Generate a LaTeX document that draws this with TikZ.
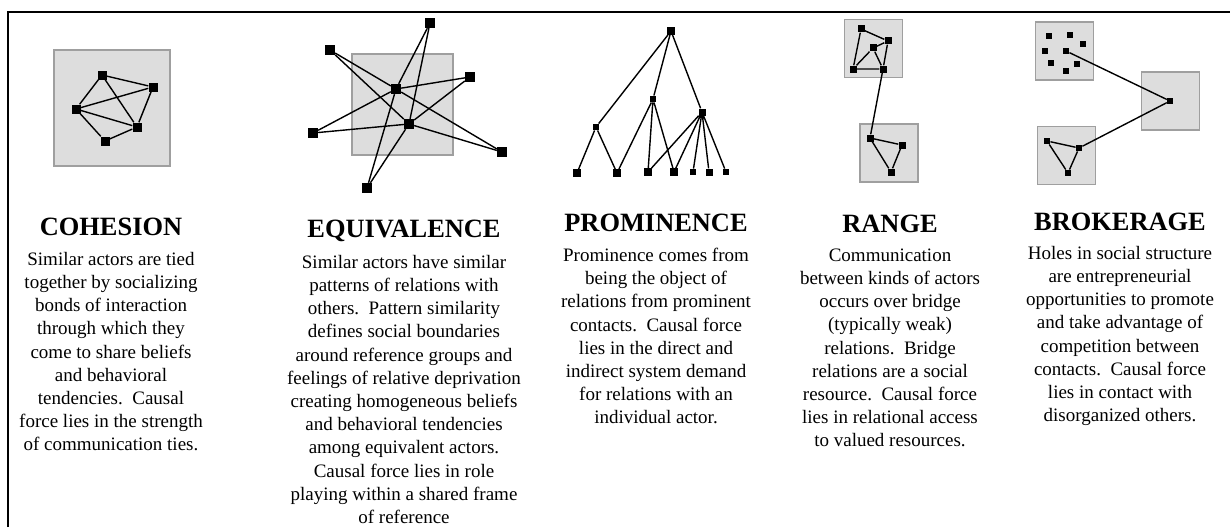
\documentclass[tikz,border=0pt]{standalone}
\usepackage{fontspec}
\setmainfont{Liberation Serif}
\usepackage{tikz}

\begin{document}
\begin{tikzpicture}[x=1pt,y=-1pt,
    actor/.style={fill=black, draw=none, minimum size=#1, inner sep=0pt},
    actor/.default=8pt,
    grpbox/.style={fill=gray!27, draw=gray!75, line width=1.1pt, minimum size=#1, inner sep=0pt},
    tie/.style={line width=1.4pt},
    heading/.style={font=\fontsize{26.4}{30}\selectfont\bfseries, inner sep=0pt, anchor=base},
    blurb/.style={font=\fontsize{19}{23.2}\selectfont, align=center, inner sep=0pt, anchor=north}]
  \useasboundingbox (0,0) rectangle (1230,527);
  \draw[line width=1.8pt] (8,527) -- (8,12) -- (1230,12);

  			% Cohesion
  			\node[grpbox=116pt] (gcoh) at (112,108) {};
  			\node[actor=9pt] (c1) at (102,75) {};
  			\node[actor=9pt] (c2) at (153,87) {};
  			\node[actor=9pt] (c3) at (76,109) {};
  			\node[actor=9pt] (c4) at (137,127) {};
  			\node[actor=9pt] (c5) at (105,141) {};
  			\draw[tie] (c1) -- (c2) (c1) -- (c3) (c1) -- (c4) (c2) -- (c3)
  			  (c2) -- (c4) (c3) -- (c4) (c3) -- (c5) (c5) -- (c4);

  			% Equivalence
  			\node[grpbox=101pt] (gequ) at (402.5,104.5) {};
  			\node[actor=10pt] (e1) at (430,23) {};
  			\node[actor=10pt] (e2) at (330,50) {};
  			\node[actor=10pt] (e3) at (470,77) {};
  			\node[actor=10pt] (e4) at (396,89) {};
  			\node[actor=10pt] (e5) at (313,133) {};
  			\node[actor=10pt] (e6) at (409,124) {};
  			\node[actor=10pt] (e7) at (502,152) {};
  			\node[actor=10pt] (e8) at (367,188) {};
  			\draw[tie] (e4) -- (e1) (e4) -- (e2) (e4) -- (e3) (e4) -- (e5) (e4) -- (e7) (e4) -- (e8);
  			\draw[tie] (e6) -- (e1) (e6) -- (e2) (e6) -- (e3) (e6) -- (e5) (e6) -- (e7) (e6) -- (e8);

  			% Prominence
  			\node[actor=7.5pt] (p0) at (671,31) {};
  			\node[actor=6.5pt] (p1) at (596,127) {};
  			\node[actor=6.5pt] (p2) at (653,99) {};
  			\node[actor=7pt]   (p3) at (702,112) {};
  			\node[actor=7.5pt] (q1) at (577,173) {};
  			\node[actor=7.5pt] (q2) at (617,173) {};
  			\node[actor=7.5pt] (q3) at (648,172) {};
  			\node[actor=7.5pt] (q4) at (674,172) {};
  			\node[actor=6.5pt] (q5) at (693,172) {};
  			\node[actor=7pt]   (q6) at (709,172) {};
  			\node[actor=6.5pt] (q7) at (726,172) {};
  			\draw[tie] (p0) -- (p1) (p0) -- (p2) (p0) -- (p3);
  			\draw[tie] (p1) -- (q1) (p1) -- (q2);
  			\draw[tie] (p2) -- (q2) (p2) -- (q3) (p2) -- (q4);
  			\draw[tie] (p3) -- (q3) (p3) -- (q4) (p3) -- (q5) (p3) -- (q6) (p3) -- (q7);

  			% Range
  			\node[grpbox=58pt] (grng1) at (873.5,48.5) {};
  			\node[grpbox=58pt] (grng2) at (889,153) {};
  			\node[actor=7pt] (r1) at (861,29) {};
  			\node[actor=7pt] (r2) at (888,41) {};
  			\node[actor=7pt] (r3) at (873,48) {};
  			\node[actor=7pt] (r4) at (853,69) {};
  			\node[actor=7pt] (r5) at (883,69) {};
  			\node[actor=7pt] (r6) at (870,138) {};
  			\node[actor=7pt] (r7) at (902,145) {};
  			\node[actor=7pt] (r8) at (891,172) {};
  			\draw[tie] (r1) -- (r2) (r1) -- (r4) (r2) -- (r3) (r2) -- (r5)
  			  (r3) -- (r4) (r3) -- (r5) (r4) -- (r5);
  			\draw[tie] (r5) -- (r6);
  			\draw[tie] (r6) -- (r7) (r7) -- (r8) (r8) -- (r6);

  			% Brokerage
  			\node[grpbox=58pt] (gbrk1) at (1064.5,51) {};
  			\node[grpbox=58pt] (gbrk2) at (1170.5,101) {};
  			\node[grpbox=58pt] (gbrk3) at (1066.5,155.5) {};
  			\node[actor=6.5pt] (b1) at (1049,36) {};
  			\node[actor=6.5pt] (b2) at (1070,35) {};
  			\node[actor=6.5pt] (b3) at (1083,44) {};
  			\node[actor=6.5pt] (b4) at (1045,51) {};
  			\node[actor=6.5pt] (b5) at (1066,51) {};
  			\node[actor=6.5pt] (b6) at (1051,63) {};
  			\node[actor=6.5pt] (b7) at (1077,64) {};
  			\node[actor=6.5pt] (b8) at (1066,71) {};
  			\node[actor=6pt] (k) at (1170,101) {};
  			\node[actor=6.5pt] (t1) at (1047,141) {};
  			\node[actor=6.5pt] (t2) at (1079,148) {};
  			\node[actor=6.5pt] (t3) at (1068,173) {};
  			\draw[tie] (b5) -- (k) (k) -- (t2);
  			\draw[tie] (t1) -- (t2) (t2) -- (t3) (t3) -- (t1);

  			% Headings and text
  			\node[heading] (tcoh) at (111,235.7) {COHESION};
  			\node[blurb] (dcoh) at (111,252) {Similar actors are tied\\together by socializing\\bonds of interaction\\through which they\\come to share beliefs\\and behavioral\\tendencies.\ \ Causal\\force lies in the strength\\of communication ties.};
  			\node[heading] (tequ) at (404,237.7) {EQUIVALENCE};
  			\node[blurb] (dequ) at (404,255) {Similar actors have similar\\patterns of relations with\\others.\ \ Pattern similarity\\defines social boundaries\\around reference groups and\\feelings of relative deprivation\\creating homogeneous beliefs\\and behavioral tendencies\\among equivalent actors.\\Causal force lies in role\\playing within a shared frame\\of reference};
  			\node[heading] (tpro) at (656,231.7) {PROMINENCE};
  			\node[blurb] (dpro) at (656,248) {Prominence comes from\\being the object of\\relations from prominent\\contacts.\ \ Causal force\\lies in the direct and\\indirect system demand\\for relations with an\\individual actor.};
  			\node[heading] (trng) at (890,232.7) {RANGE};
  			\node[blurb] (drng) at (890,248.5) {Communication\\between kinds of actors\\occurs over bridge\\(typically weak)\\relations.\ \ Bridge\\relations are a social\\resource.\ \ Causal force\\lies in relational access\\to valued resources.};
  			\node[heading] (tbrk) at (1120,230.7) {BROKERAGE};
  			\node[blurb] (dbrk) at (1120,246) {Holes in social structure\\are entrepreneurial\\opportunities to promote\\and take advantage of\\competition between\\contacts.\ \ Causal force\\lies in contact with\\disorganized others.};
\end{tikzpicture}
\end{document}
